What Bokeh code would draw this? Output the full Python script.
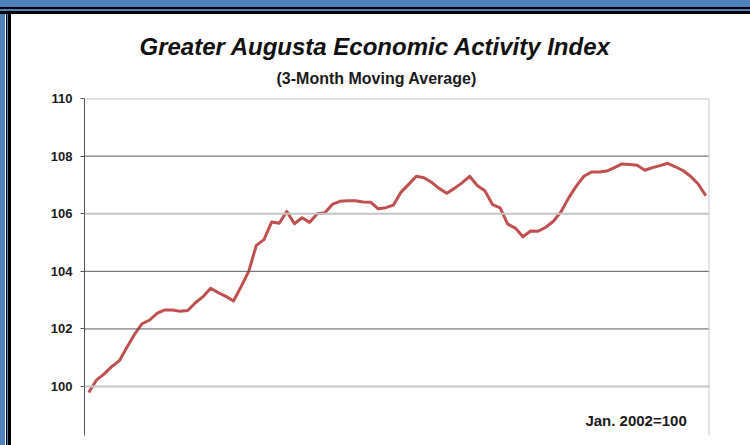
from bokeh.plotting import figure
from bokeh.models import Range1d, Span, Label, Title, FixedTicker
from bokeh.embed import file_html
from bokeh.resources import INLINE

# Greater Augusta Economic Activity Index, 3-month moving average (Jan. 2002 = 100)
index_values = [
    99.79, 100.22, 100.43, 100.69, 100.89, 101.36, 101.81, 102.18, 102.31, 102.55,
    102.66, 102.66, 102.61, 102.64, 102.91, 103.12, 103.41, 103.26, 103.13, 102.97,
    103.47, 104.00, 104.90, 105.10, 105.71, 105.67, 106.08, 105.65, 105.86, 105.70,
    106.00, 106.03, 106.33, 106.43, 106.45, 106.45, 106.41, 106.40, 106.17, 106.21,
    106.30, 106.75, 107.02, 107.30, 107.25, 107.09, 106.88, 106.71, 106.88, 107.07,
    107.30, 106.98, 106.80, 106.32, 106.20, 105.64, 105.50, 105.20, 105.40, 105.39,
    105.53, 105.74, 106.07, 106.55, 106.96, 107.30, 107.45, 107.45, 107.48, 107.60,
    107.73, 107.71, 107.68, 107.51, 107.60, 107.67, 107.75, 107.63, 107.50, 107.30,
    107.03, 106.63,
]
months = list(range(len(index_values)))
y_ticks = [100, 102, 104, 106, 108, 110]
dark_grid = [102, 104, 108]
light_grid = [100, 106, 110]

title_text = "Greater Augusta Economic Activity Index"
subtitle_text = "(3-Month Moving Average)"
note_text = "Jan. 2002=100"

FONT = "Liberation Sans"

p = figure(width=750, height=445, output_backend="svg", toolbar_location=None,
           x_range=Range1d(-0.56, len(index_values) - 1 + 0.49),
           y_range=Range1d(98.3, 110),
           min_border_left=84, min_border_right=41, min_border_top=98,
           min_border_bottom=10, title=None)
p.outline_line_color = None
p.background_fill_color = "white"
p.border_fill_color = None
p.xaxis.visible = False
p.xgrid.visible = False
p.ygrid.visible = False

# window frame decoration (blue/black edges at top and left)
p.styles = {
    "background-color": "white",
    "background-image": (
        "linear-gradient(to bottom, #4f81bd 0px, #4f81bd 7px, #000 7px, #000 9px, "
        "#4f81bd 9px, #4f81bd 11px, #000 11px, #000 14px, transparent 14px), "
        "linear-gradient(to right, #4f81bd 0px, #4f81bd 5px, #fff 5px, #fff 6px, "
        "#000 6px, #000 7px, #4f81bd 7px, #4f81bd 8px, #000 8px, #000 11px, transparent 11px)"
    ),
}

yax = p.yaxis[0]
yax.ticker = FixedTicker(ticks=y_ticks)
yax.axis_line_color = "#555555"
yax.major_tick_line_color = "#555555"
yax.major_tick_out = 4
yax.major_tick_in = 0
yax.minor_tick_line_color = None
yax.major_label_standoff = 8
yax.major_label_text_font = FONT
yax.major_label_text_font_style = "bold"
yax.major_label_text_font_size = "13px"
yax.major_label_text_color = "#1a1a1a"

for v in dark_grid:
    p.add_layout(Span(location=v, dimension="width", line_color="#5a5a5a", line_width=1))
for v in light_grid:
    p.add_layout(Span(location=v, dimension="width", line_color="#c4c4c4", line_width=2))
p.add_layout(Span(location=p.x_range.end, dimension="height", line_color="#c8c8c8", line_width=2))

p.line(months, index_values, line_color="#C0504D", line_width=3, line_join="round")

p.add_layout(Label(x=len(index_values) - 3.5, y=98.81, text=note_text, text_align="right",
                   text_baseline="alphabetic", text_font=FONT, text_font_style="bold",
                   text_font_size="15px", text_color="#1a1a1a"))

sub = Title(text=subtitle_text, align="left", offset=192, standoff=24,
            text_font=FONT, text_font_style="bold", text_font_size="16px", text_color="#1a1a1a")
main = Title(text=title_text, align="left", offset=55, standoff=-9,
             text_font=FONT, text_font_style="bold italic", text_font_size="24px", text_color="#111111")
p.add_layout(sub, "above")
p.add_layout(main, "above")

open("out.html", "w").write(file_html(p, INLINE))
